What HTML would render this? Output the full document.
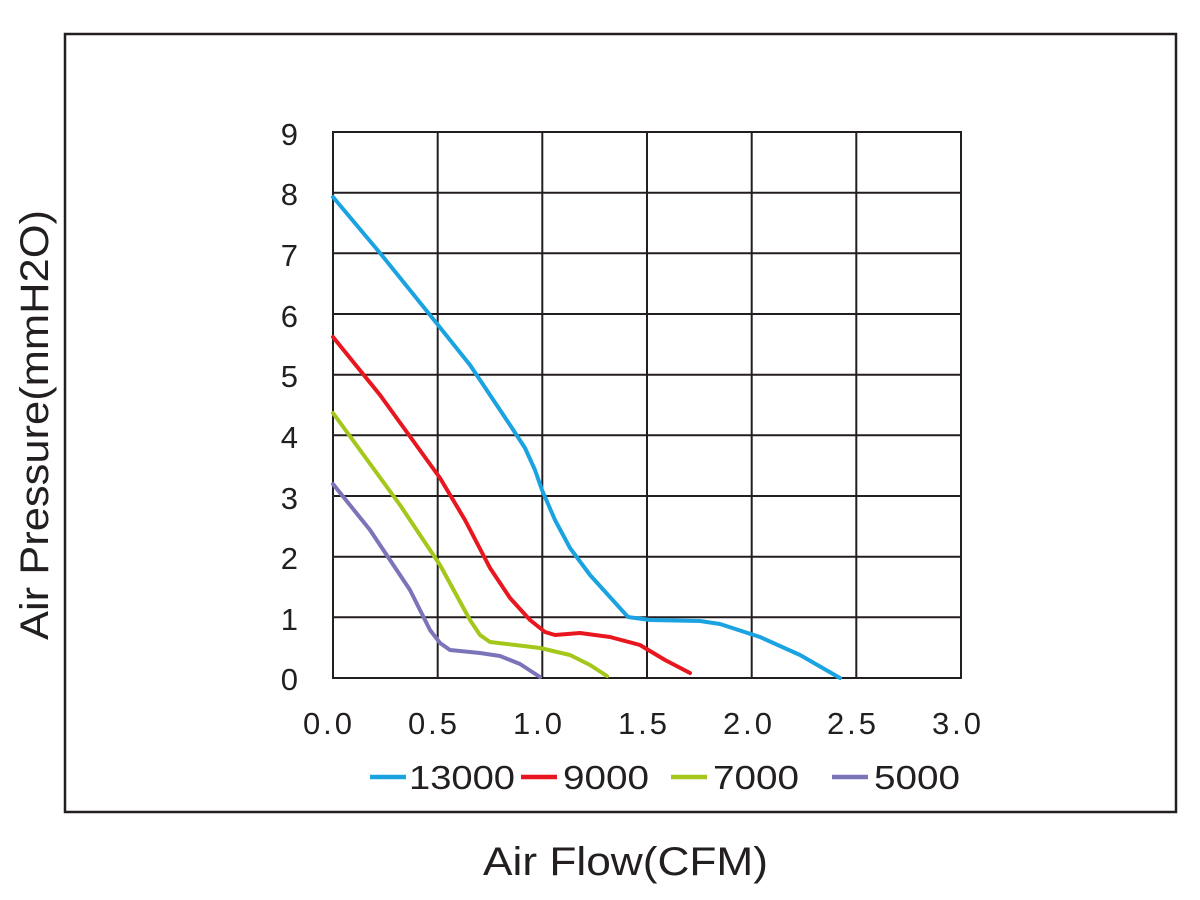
<!DOCTYPE html>
<html><head><meta charset="utf-8"><style>
html,body{margin:0;padding:0;background:#fff;}
svg{display:block;font-family:"Liberation Sans",Arial,sans-serif;}
</style></head><body>
<svg width="1200" height="900" viewBox="0 0 1200 900" xmlns="http://www.w3.org/2000/svg">
<rect x="0" y="0" width="1200" height="900" fill="#fff"/>
<rect x="65" y="34" width="1111" height="778" fill="none" stroke="#231f20" stroke-width="2.5"/>
<g stroke="#231f20" stroke-width="2" fill="none">
<rect x="333" y="132" width="628" height="546"/>
<line x1="437.7" y1="132" x2="437.7" y2="678"/>
<line x1="542.3" y1="132" x2="542.3" y2="678"/>
<line x1="647" y1="132" x2="647" y2="678"/>
<line x1="751.7" y1="132" x2="751.7" y2="678"/>
<line x1="856.3" y1="132" x2="856.3" y2="678"/>
<line x1="333" y1="192.7" x2="961" y2="192.7"/>
<line x1="333" y1="253.3" x2="961" y2="253.3"/>
<line x1="333" y1="314" x2="961" y2="314"/>
<line x1="333" y1="374.7" x2="961" y2="374.7"/>
<line x1="333" y1="435.3" x2="961" y2="435.3"/>
<line x1="333" y1="496" x2="961" y2="496"/>
<line x1="333" y1="556.7" x2="961" y2="556.7"/>
<line x1="333" y1="617.3" x2="961" y2="617.3"/>
</g>
<g fill="none" stroke-width="4" stroke-linejoin="round" stroke-linecap="round">
<polyline stroke="#1aa3e0" points="333,197 380,253 430,315 470,365 510,425 525,448 535,470 542,490 555,520 570,548 590,575 628,617 650,620 700,621 720,624 760,637 800,655 840,678"/>
<polyline stroke="#e8171f" points="333,337 380,395 440,478 465,520 490,568 510,598 530,620 545,632 555,635 580,633 610,637 640,645 665,660 690,673"/>
<polyline stroke="#a3c71a" points="333,413 360,450 400,505 440,565 470,620 480,635 490,642 540,648 570,655 590,665 607,676"/>
<polyline stroke="#7b74b9" points="333,484 370,530 410,590 430,630 440,643 450,650 480,653 500,656 520,664 540,677"/>
</g>
<g font-size="31" fill="#231f20" text-anchor="end">
<text x="298" y="145">9</text><text x="298" y="205">8</text><text x="298" y="266">7</text>
<text x="298" y="327">6</text><text x="298" y="387">5</text><text x="298" y="448">4</text>
<text x="298" y="509">3</text><text x="298" y="569">2</text><text x="298" y="630">1</text>
<text x="298" y="690">0</text>
</g>
<g font-size="31" fill="#231f20" text-anchor="middle" letter-spacing="3">
<text x="329" y="734">0.0</text><text x="434" y="734">0.5</text><text x="539" y="734">1.0</text>
<text x="644" y="734">1.5</text><text x="749" y="734">2.0</text><text x="853" y="734">2.5</text>
<text x="958" y="734">3.0</text>
</g>
<g stroke-width="4.5">
<line x1="370" y1="777" x2="406" y2="777" stroke="#1aa3e0"/>
<line x1="521" y1="777" x2="557" y2="777" stroke="#e8171f"/>
<line x1="671" y1="777" x2="707" y2="777" stroke="#a3c71a"/>
<line x1="832" y1="777" x2="868" y2="777" stroke="#7b74b9"/>
</g>
<g font-size="33" fill="#231f20">
<text x="409" y="789" textLength="106" lengthAdjust="spacingAndGlyphs">13000</text>
<text x="563" y="789" textLength="86" lengthAdjust="spacingAndGlyphs">9000</text>
<text x="713" y="789" textLength="86" lengthAdjust="spacingAndGlyphs">7000</text>
<text x="874" y="789" textLength="86" lengthAdjust="spacingAndGlyphs">5000</text>
</g>
<text x="483" y="875" font-size="40" fill="#231f20" textLength="285" lengthAdjust="spacingAndGlyphs">Air Flow(CFM)</text>
<text transform="translate(48,640) rotate(-90)" font-size="40" fill="#231f20" textLength="430" lengthAdjust="spacingAndGlyphs">Air Pressure(mmH2O)</text>
</svg>
</body></html>
